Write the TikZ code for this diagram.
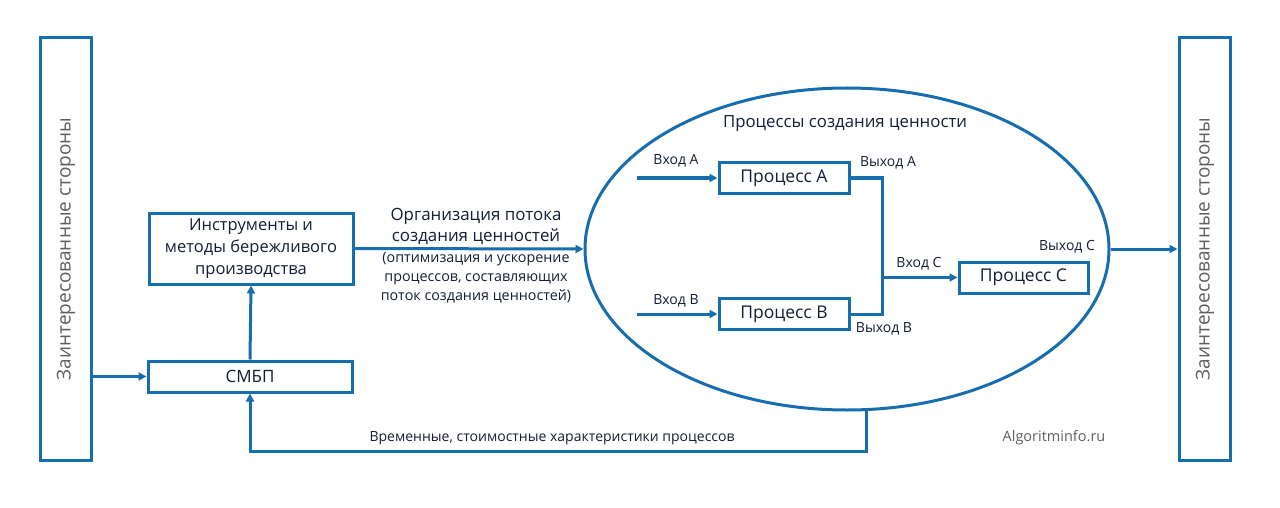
\documentclass[tikz,border=0pt]{standalone}
\usepackage{fontspec}
\setmainfont{Open Sans}
\usetikzlibrary{arrows.meta,shapes.geometric}
\definecolor{lblue}{RGB}{23,110,175}
\definecolor{ltext}{RGB}{20,30,55}
\definecolor{lgray}{RGB}{95,95,95}
\tikzset{
  box/.style={draw=lblue,line width=3pt,text=ltext,align=center,inner sep=0pt},
  arr/.style={draw=lblue,line width=3pt,-{Triangle[length=8pt,width=8pt]}},
  ln/.style={draw=lblue,line width=3pt},
  lab/.style={text=ltext,font=\fontsize{14}{16}\selectfont,inner sep=0pt},
  vt/.style={text=lgray,font=\fontsize{19}{22}\selectfont,rotate=90,inner sep=0pt}
}
\begin{document}
\begin{tikzpicture}[x=1pt,y=-1pt]
\useasboundingbox[fill=white] (0,0) rectangle (1280,508);
% stakeholders
\node[box,minimum width=51pt,minimum height=422pt] (L) at (65.5,249) {};
\node[vt] at (66,249) {Заинтересованные стороны};
\node[box,minimum width=51pt,minimum height=422pt] (R) at (1204.5,249) {};
\node[vt] at (1205,249) {Заинтересованные стороны};
% left boxes
\node[box,minimum width=204pt,minimum height=71pt,font=\fontsize{16.5}{22}\selectfont] (ins) at (251,248.5) {Инструменты и\\методы бережливого\\производства};
\node[box,minimum width=204pt,minimum height=31pt,font=\fontsize{17}{20}\selectfont] (smbp) at (250,376.5) {СМБП};
% ellipse
\node[draw=lblue,line width=3pt,ellipse,minimum width=524pt,minimum height=322pt,inner sep=0pt] (vp) at (847,249) {};
\node[text=ltext,font=\fontsize{16.8}{20}\selectfont,inner sep=0pt] at (845,124) {Процессы создания ценности};
% processes
\node[box,minimum width=130pt,minimum height=31pt,font=\fontsize{17.5}{20}\selectfont] (pa) at (784,178) {Процесс A};
\node[box,minimum width=130pt,minimum height=31pt,font=\fontsize{17.5}{20}\selectfont] (pb) at (784,314) {Процесс B};
\node[box,minimum width=129pt,minimum height=31pt,font=\fontsize{17.5}{20}\selectfont] (pc) at (1023.5,277.5) {Процесс C};
\coordinate (ia) at (637,178);
\coordinate (ib) at (637,314);
\coordinate (j) at (882,277.5);
\draw[arr] (ia) -- (pa.west);
\draw[arr] (ib) -- (pb.west);
\draw[ln] (pa.east) -| (j);
\draw[ln] (pb.east) -| (j);
\draw[arr] (j) -- (pc.west);
\node[lab] at (676,161) {Вход A};
\node[lab] at (676,301) {Вход B};
\node[lab] at (888,163) {Выход A};
\node[lab] at (884,329) {Выход B};
\node[lab] at (919,264) {Вход C};
\node[lab] at (1067,247) {Выход C};
% flows
\draw[arr] (L.east |- smbp.west) -- (smbp.west);
\draw[arr] (smbp.north) -- (ins.south);
\draw[arr] (ins.east) -- (vp.west);
\draw[arr] (vp.east) -- (R.west);
\coordinate (fb) at (866,409);
\draw[arr] (fb) -- (866,451) -| (smbp.south);
\node[text=ltext,font=\fontsize{16.9}{20}\selectfont,inner sep=0pt] at (476,216) {Организация потока};
\node[text=ltext,font=\fontsize{16.9}{20}\selectfont,inner sep=0pt] at (476,237) {создания ценностей};
\node[text=ltext,font=\fontsize{14.3}{19}\selectfont,align=center,inner sep=0pt] at (476,278) {(оптимизация и ускорение\\процессов, составляющих\\поток создания ценностей)};
\node[text=ltext,font=\fontsize{14}{16}\selectfont,inner sep=0pt] at (552,438) {Временные, стоимостные характеристики процессов};
\node[text=lgray,font=\fontsize{14.5}{16}\selectfont,inner sep=0pt] at (1054,438) {Algoritminfo.ru};
\end{tikzpicture}
\end{document}
